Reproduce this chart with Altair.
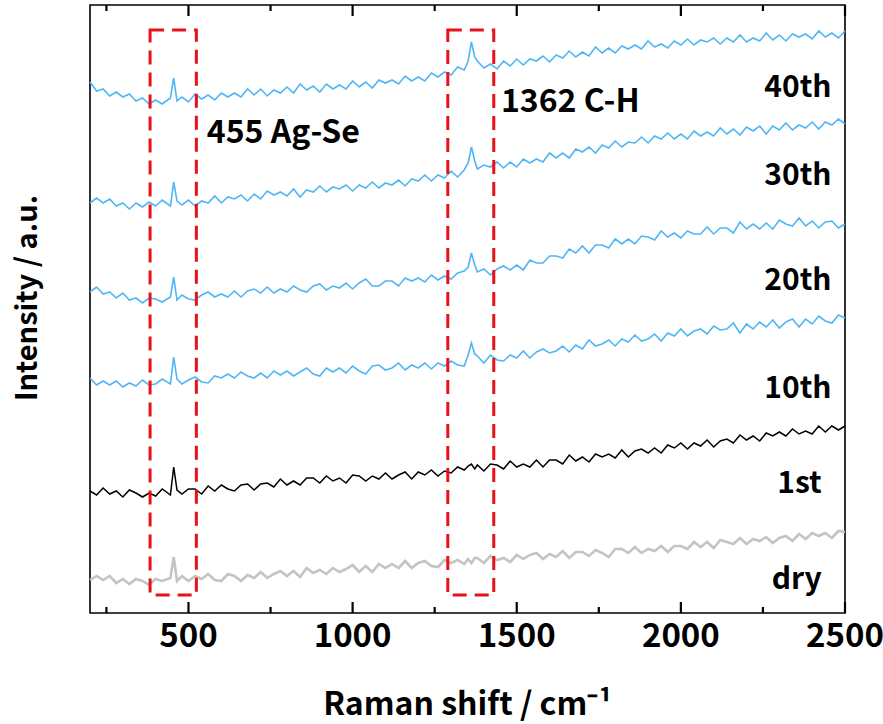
import altair as alt
import pandas as pd

# Raman shift sample positions (cm-1)
X = [200, 220, 240, 260, 280, 300, 320, 340, 360, 380, 400, 420,
     445, 455, 465,
     480, 500, 520, 540, 560, 580, 600, 620, 640, 660,
     680, 700, 720, 740, 760, 780, 800, 820, 840, 860,
     880, 900, 920, 940, 960, 980, 1000, 1020, 1040, 1060,
     1080, 1100, 1120, 1140, 1160, 1180, 1200, 1220, 1240, 1260,
     1280, 1300, 1320, 1340,
     1352, 1362, 1372,
     1380, 1400, 1420, 1440, 1460, 1480, 1500, 1520, 1540, 1560,
     1580, 1600, 1620, 1640, 1660, 1680, 1700, 1720, 1740, 1760,
     1780, 1800, 1820, 1840, 1860, 1880, 1900, 1920, 1940, 1960,
     1980, 2000, 2020, 2040, 2060, 2080, 2100, 2120, 2140, 2160,
     2180, 2200, 2220, 2240, 2260, 2280, 2300, 2320, 2340, 2360,
     2380, 2400, 2420, 2440, 2460, 2480, 2500]

# Intensities (a.u., stacked offsets as drawn)
I_40th = [531, 522, 524, 517, 521, 516, 519, 512, 515, 509, 513, 509,
          515, 535, 512,
          516, 511, 519, 514, 518, 513, 520, 516, 520, 516,
          524, 518, 524, 517, 523, 520, 526, 520, 529, 523,
          527, 521, 529, 524, 528, 524, 532, 526, 531, 525,
          533, 530, 533, 529, 537, 532, 536, 532, 540, 536,
          541, 538, 546, 543,
          552, 571, 556,
          552, 545, 549, 544, 552, 547, 554, 548, 554, 552,
          557, 551, 558, 555, 562, 556, 561, 557, 566, 560,
          565, 560, 567, 564, 568, 564, 572, 566, 569, 565,
          572, 568, 574, 568, 573, 571, 575, 569, 575, 571,
          578, 571, 575, 572, 580, 573, 578, 572, 579, 576,
          579, 574, 582, 576, 580, 575, 582]
I_30th = [410, 415, 410, 414, 407, 410, 404, 410, 406, 411, 407, 413,
          407, 431, 412,
          408, 413, 407, 412, 410, 417, 410, 416, 414, 418,
          412, 419, 414, 422, 418, 421, 417, 424, 416, 423,
          421, 427, 421, 426, 424, 428, 422, 428, 425, 431,
          425, 430, 428, 433, 427, 434, 432, 438, 432, 438,
          435, 442, 436, 443,
          450, 466, 452,
          444, 448, 446, 451, 445, 451, 446, 454, 450, 454,
          451, 460, 455, 460, 455, 464, 461, 466, 460, 468,
          465, 472, 466, 471, 470, 476, 470, 477, 474, 480,
          474, 479, 474, 482, 477, 481, 477, 485, 479, 484,
          478, 486, 482, 487, 479, 487, 483, 490, 483, 488,
          485, 491, 484, 491, 488, 494, 489]
I_20th = [321, 326, 319, 321, 315, 320, 313, 315, 310, 315, 314, 311,
          316, 336, 313,
          318, 314, 313, 318, 321, 316, 319, 316, 322, 316,
          322, 324, 320, 326, 320, 324, 321, 327, 323, 321,
          327, 329, 323, 327, 325, 330, 324, 330, 334, 327,
          327, 332, 332, 327, 335, 332, 335, 331, 338, 333,
          337, 334, 340, 342,
          346, 360, 348,
          341, 344, 338, 344, 347, 343, 348, 343, 353, 350,
          350, 357, 357, 355, 364, 360, 367, 360, 368, 368,
          365, 374, 369, 374, 369, 377, 376, 373, 382, 376,
          380, 375, 382, 379, 379, 386, 379, 385, 385, 380,
          391, 384, 389, 384, 390, 384, 393, 389, 387, 395,
          387, 392, 385, 391, 392, 385, 389]
I_10th = [235, 228, 232, 228, 232, 226, 230, 227, 233, 228, 229, 234,
          229, 256, 234,
          229, 233, 236, 231, 230, 237, 235, 239, 235, 241,
          237, 235, 240, 235, 242, 238, 242, 237, 241, 245,
          239, 237, 245, 241, 245, 240, 247, 242, 239, 247,
          248, 243, 245, 250, 243, 248, 245, 250, 244, 250,
          247, 252, 248, 247,
          258, 270, 259,
          257, 250, 258, 253, 252, 258, 255, 262, 255, 261,
          264, 260, 262, 267, 261, 268, 264, 273, 267, 269,
          273, 267, 274, 271, 278, 272, 274, 279, 272, 280,
          277, 284, 277, 282, 284, 279, 287, 283, 284, 290,
          280, 289, 284, 291, 286, 293, 285, 291, 294, 286,
          294, 289, 297, 292, 290, 298, 295]
I_1st = [122, 118, 125, 119, 122, 116, 123, 120, 116, 120, 117, 124,
         118, 146, 123,
         119, 124, 124, 119, 127, 122, 128, 124, 122, 128,
         129, 123, 129, 130, 126, 134, 128, 132, 128, 135,
         135, 130, 137, 132, 135, 130, 138, 137, 132, 137,
         134, 140, 134, 138, 141, 134, 141, 138, 143, 137,
         142, 140, 146, 143,
         147, 149, 144,
         148, 142, 149, 148, 144, 152, 146, 149, 146, 153,
         146, 153, 153, 149, 158, 152, 156, 151, 159, 156,
         159, 155, 163, 156, 162, 164, 160, 165, 160, 168,
         165, 170, 164, 170, 167, 173, 166, 172, 174, 170,
         178, 173, 177, 172, 180, 177, 181, 177, 184, 179,
         182, 179, 187, 181, 187, 183, 187]
I_dry = [33, 37, 33, 37, 30, 34, 29, 34, 32, 28, 34, 32,
         35, 56, 32,
         37, 32, 37, 34, 39, 33, 32, 39, 37, 32,
         38, 35, 41, 35, 39, 42, 37, 42, 36, 45,
         40, 43, 39, 45, 41, 44, 48, 41, 47, 41,
         49, 45, 49, 45, 52, 45, 50, 52, 47, 46,
         53, 50, 53, 49,
         54, 50, 55,
         55, 50, 57, 53, 55, 51, 58, 54, 58, 60,
         54, 59, 56, 62, 55, 61, 61, 57, 63, 60,
         56, 64, 64, 60, 66, 60, 64, 62, 67, 61,
         67, 67, 64, 71, 66, 71, 65, 73, 71, 69,
         75, 69, 74, 72, 76, 70, 75, 77, 72, 79,
         74, 80, 77, 80, 75, 82, 81]

BLUE_SERIES = ["40th", "30th", "20th", "10th"]
BLUE_VALUES = [I_40th, I_30th, I_20th, I_10th]
BLUE = "#4FB6F5"
BLACK = "#000000"
GRAY = "#C4C4C4"

# series labels (position in data units)
LABEL_TEXT = ["40th", "30th", "20th", "10th", "1st", "dry"]
LABEL_X = [2459, 2459, 2459, 2459, 2429, 2429]
LABEL_Y = [516, 428, 323, 215, 120, 24]

# peak annotations
PEAK_TEXT = ["455 Ag-Se", "1362 C-H"]
PEAK_X = [556, 1452]
PEAK_Y = [470, 501]

# dashed highlight boxes
BOX_X1 = [383, 1290]
BOX_X2 = [524, 1430]
BOX_Y1 = [18, 18]
BOX_Y2 = [583, 583]

MAJOR_TICKS = [500, 1000, 1500, 2000, 2500]
MINOR_TICKS = [250, 750, 1250, 1750, 2250]
Y_MIN, Y_MAX = 0, 608
MAJOR_LEN, MINOR_LEN = 11, 6
X_TITLE = "Raman shift / cm⁻¹"
Y_TITLE = "Intensity / a.u."

FONT = "Noto Sans CJK JP"
PLOT_W, PLOT_H = 755, 608


def frame(names, value_lists):
    rows = []
    for s, vals in zip(names, value_lists):
        for x, v in zip(X, vals):
            rows.append({"shift": x, "intensity": v, "series": s})
    return pd.DataFrame(rows)


xscale = alt.Scale(domain=[200, 2500], nice=False, zero=False)
yscale = alt.Scale(domain=[Y_MIN, Y_MAX], nice=False, zero=False)


def xe(field):
    return alt.X(field, scale=xscale, axis=None)


def ye(field):
    return alt.Y(field, scale=yscale, axis=None)


blue_lines = alt.Chart(frame(BLUE_SERIES, BLUE_VALUES)).mark_line(
    color=BLUE, strokeWidth=1.6
).encode(x=xe("shift:Q"), y=ye("intensity:Q"), detail="series:N")

black_line = alt.Chart(frame(["1st"], [I_1st])).mark_line(
    color=BLACK, strokeWidth=1.5
).encode(x=xe("shift:Q"), y=ye("intensity:Q"))

gray_line = alt.Chart(frame(["dry"], [I_dry])).mark_line(
    color=GRAY, strokeWidth=2.6
).encode(x=xe("shift:Q"), y=ye("intensity:Q"))

# inward tick marks on the bottom and top frame edges
tick_rows = []
for t in MAJOR_TICKS:
    tick_rows.append({"tx": t, "ty": Y_MIN, "ty2": Y_MIN + MAJOR_LEN})
    tick_rows.append({"tx": t, "ty": Y_MAX - MAJOR_LEN, "ty2": Y_MAX})
for t in MINOR_TICKS:
    tick_rows.append({"tx": t, "ty": Y_MIN, "ty2": Y_MIN + MINOR_LEN})
    tick_rows.append({"tx": t, "ty": Y_MAX - MINOR_LEN, "ty2": Y_MAX})

tick_marks = alt.Chart(pd.DataFrame(tick_rows)).mark_rule(
    color="black", strokeWidth=2.2
).encode(x=xe("tx:Q"), y=ye("ty:Q"), y2="ty2:Q")

# tick labels along the bottom
tick_labels = alt.Chart(pd.DataFrame({"t": MAJOR_TICKS})).mark_text(
    baseline="middle", align="center", font=FONT, fontSize=33, fontWeight="bold", color="black"
).encode(x=xe("t:Q"), y=alt.value(PLOT_H + 24), text=alt.Text("t:Q", format="d"))

x_title = alt.Chart(pd.DataFrame({"t": [X_TITLE]})).mark_text(
    baseline="alphabetic", align="center", font=FONT, fontSize=32, fontWeight="bold", color="black"
).encode(x=alt.value(PLOT_W / 2), y=alt.value(PLOT_H + 102), text="t:N")

y_title = alt.Chart(pd.DataFrame({"t": [Y_TITLE]})).mark_text(
    baseline="alphabetic", align="center", angle=270, font=FONT, fontSize=29,
    fontWeight="bold", color="black"
).encode(x=alt.value(-53), y=alt.value(293), text="t:N")

boxes = alt.Chart(pd.DataFrame({"x1": BOX_X1, "x2": BOX_X2,
                                "y1": BOX_Y1, "y2": BOX_Y2})).mark_rect(
    fillOpacity=0, stroke="#E8111A", strokeWidth=3, strokeDash=[14, 8]
).encode(x=xe("x1:Q"), x2="x2:Q", y=ye("y1:Q"), y2="y2:Q")

series_labels = alt.Chart(pd.DataFrame({"t": LABEL_TEXT, "x": LABEL_X,
                                        "y": LABEL_Y})).mark_text(
    align="right", baseline="alphabetic", font=FONT, fontSize=30, fontWeight="bold", color="black"
).encode(x=xe("x:Q"), y=ye("y:Q"), text="t:N")

peak_labels = alt.Chart(pd.DataFrame({"t": PEAK_TEXT, "x": PEAK_X,
                                      "y": PEAK_Y})).mark_text(
    align="left", baseline="alphabetic", font=FONT, fontSize=32, fontWeight="bold", color="black"
).encode(x=xe("x:Q"), y=ye("y:Q"), text="t:N")

chart = alt.layer(
    blue_lines, gray_line, black_line, boxes,
    tick_labels, x_title, y_title, series_labels, peak_labels, tick_marks
).properties(
    width=PLOT_W, height=PLOT_H,
    autosize=alt.AutoSizeParams(type="none"),
    padding={"left": 90, "top": 5, "right": 38, "bottom": 111},
    background="white",
).configure_view(stroke="black", strokeWidth=1.6)

chart.save("out.html", embed_options={"renderer": "svg", "actions": False})
